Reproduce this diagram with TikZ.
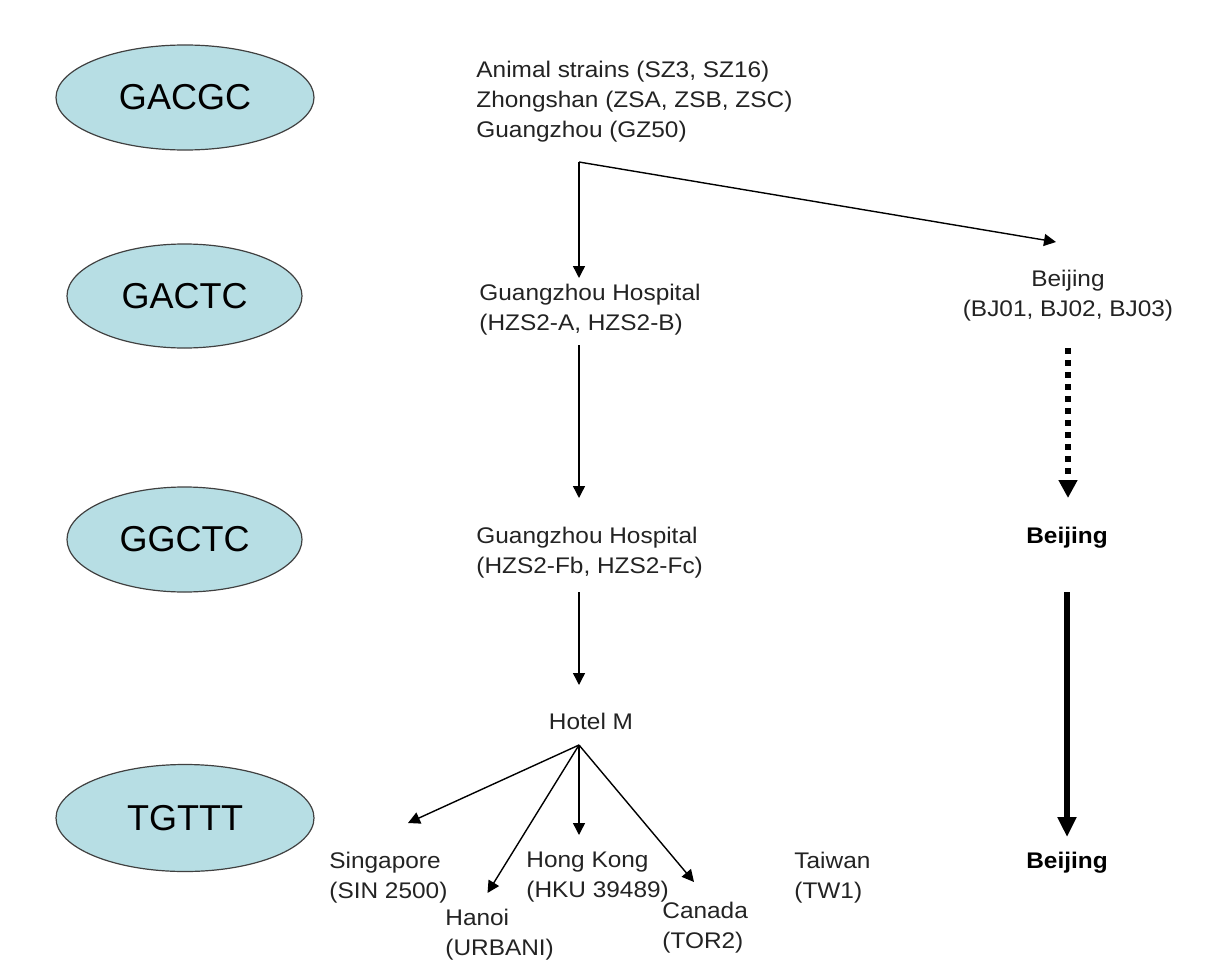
\documentclass[tikz,border=0pt]{standalone}
\usepackage{fontspec}
\setmainfont{Liberation Sans}
\newfontfamily\sitefont[FakeStretch=1.08]{Liberation Sans}
\usetikzlibrary{arrows.meta,% Triangle tips
shapes.geometric}%         ellipse nodes
\definecolor{seqfill}{RGB}{183,222,228}
\definecolor{inkgray}{RGB}{35,35,35}
\tikzset{seqbox/.style={ellipse,draw=black!75,line width=0.6pt,fill=seqfill,
    inner sep=0pt,font=\fontsize{18}{22}\selectfont},
  site/.style={inner sep=0pt,align=left,text=inkgray,
    font=\sitefont\fontsize{11.3}{15}\selectfont},
  boldsite/.style={inner sep=0pt,text=black,
    font=\sitefont\bfseries\fontsize{11.3}{15}\selectfont},
  arr/.style={line width=0.7pt,-{Triangle[length=6pt,width=6pt]}},
  dotarr/.style={line width=3pt,dash pattern=on 3pt off 3pt,
    -{Triangle[length=9pt,width=9pt]}},
  boldarr/.style={line width=3pt,-{Triangle[length=10pt,width=9pt]}}}

\begin{document}
\begin{tikzpicture}[x=0.5pt,y=-0.5pt]
  \useasboundingbox (0,0) rectangle (1215,974);
  % sequence groups
  \foreach \seq/\cx/\cy/\w/\h in {GACGC/185/97.5/258/105,GACTC/184.5/296/235/104,
    GGCTC/184.5/539.5/235/105,TGTTT/185/818/258/107}
    \node[seqbox,minimum width=\w*0.5pt,minimum height=\h*0.5pt] (\seq) at (\cx,\cy) {\seq};
  % isolates
  \node[site,anchor=north west] (src) at (476,61)
    {Animal strains (SZ3, SZ16)\\Zhongshan (ZSA, ZSB, ZSC)\\Guangzhou (GZ50)};
  \node[site,anchor=north west] (hospA) at (479,283.5) {Guangzhou Hospital\\(HZS2-A, HZS2-B)};
  \node[site,anchor=north west] (hospF) at (476,526.5) {Guangzhou Hospital\\(HZS2-Fb, HZS2-Fc)};
  \node[site,anchor=north] (hotel) at (591,712.5) {Hotel M};
  \node[site,anchor=north west] (sing) at (329,851.5) {Singapore\\(SIN 2500)};
  \node[site,anchor=north west] (hanoi) at (445,908.5) {Hanoi\\(URBANI)};
  \node[site,anchor=north west] (hk) at (526,851.5) {Hong Kong\\(HKU 39489)};
  \node[site,anchor=north west] (canada) at (662,901.5) {Canada\\(TOR2)};
  \node[site,anchor=north west] (taiwan) at (794,851.5) {Taiwan\\(TW1)};
  \node[site,anchor=north,align=center] (bjA) at (1068,269.5) {Beijing\\(BJ01, BJ02, BJ03)};
  \node[boldsite,anchor=north] (bjB) at (1067,526.5) {Beijing};
  \node[boldsite,anchor=north] (bjC) at (1067,851.5) {Beijing};
  % spread
  \coordinate (split) at (579,162);
  \coordinate (hub) at (579,745);
  \draw[arr] (split) -- ([xshift=-6pt,yshift=13.75pt]bjA.north);
  \draw[arr,shorten >=2.75pt] (split) -- (split |- hospA.north);
  \draw[arr,shorten <=5pt,shorten >=14.25pt] (split |- hospA.south) -- (split |- hospF.north);
  \draw[arr,shorten <=7pt,shorten >=13.75pt] (split |- hospF.south) -- (split |- hotel.north);
  \draw[arr] (hub) -- ([xshift=39.5pt,yshift=14.25pt]sing.north west);
  \draw[arr] (hub) -- ([xshift=21.25pt,yshift=7.75pt]hanoi.north west);
  \draw[arr,shorten >=8.25pt] (hub) -- (hub |- hk.north);
  \draw[arr] (hub) -- ([xshift=16pt,yshift=9.75pt]canada.north west);
  \draw[dotarr,shorten <=13.5pt,shorten >=14.25pt] (bjA.south) -- (bjA.south |- bjB.north);
  \draw[boldarr,shorten <=22pt,shorten >=7.25pt] (bjB.south) -- (bjB.south |- bjC.north);
\end{tikzpicture}
\end{document}
